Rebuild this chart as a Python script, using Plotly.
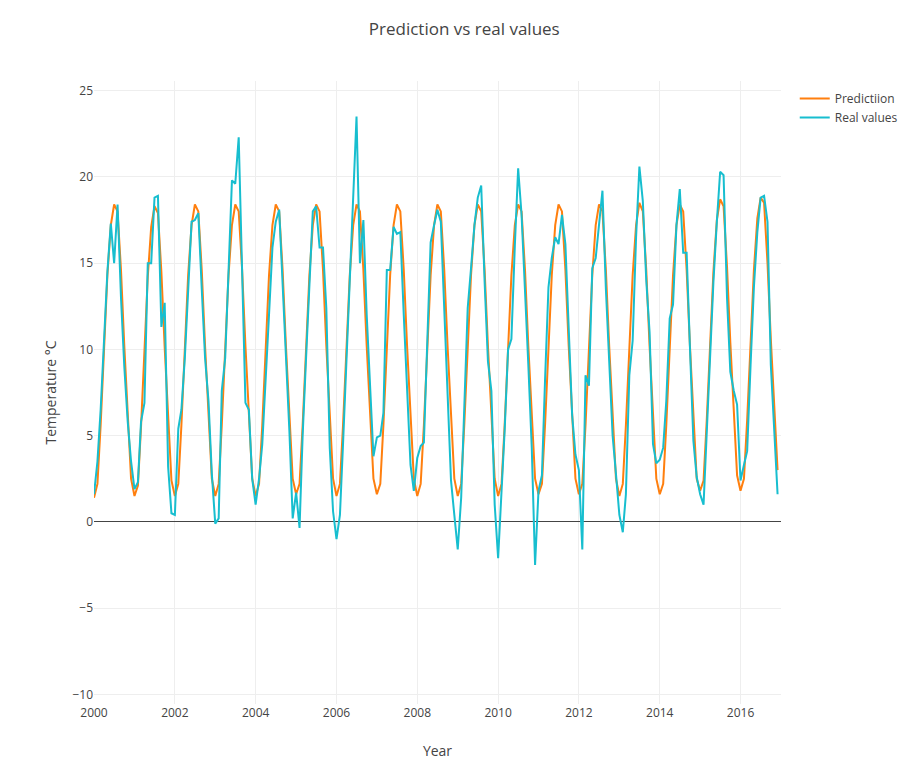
import pandas as pd
import plotly.graph_objects as go

# monthly dates, Jan 2000 .. Dec 2016
dates = pd.date_range("2000-01-01", periods=204, freq="MS")

# model output (°C), one row per year
prediction = [
    1.4, 2.2, 5.6, 9.8, 14.3, 17.2, 18.4, 18.0, 14.6, 10.2, 6.0, 2.5,   # 2000
    1.5, 2.1, 5.5, 9.7, 14.2, 17.1, 18.3, 17.9, 14.5, 10.1, 5.9, 2.4,   # 2001
    1.5, 2.2, 5.6, 9.8, 14.3, 17.2, 18.4, 18.0, 14.6, 10.2, 6.0, 2.5,   # 2002
    1.5, 2.2, 5.6, 9.8, 14.3, 17.2, 18.4, 18.0, 14.6, 10.2, 6.0, 2.5,   # 2003
    1.5, 2.2, 5.6, 9.8, 14.3, 17.2, 18.4, 18.0, 14.6, 10.2, 6.0, 2.5,   # 2004
    1.6, 2.2, 5.6, 9.8, 14.3, 17.2, 18.4, 18.0, 14.6, 10.2, 6.0, 2.5,   # 2005
    1.5, 2.2, 5.6, 9.8, 14.3, 17.2, 18.4, 18.0, 14.6, 10.2, 6.0, 2.5,   # 2006
    1.6, 2.2, 5.6, 9.8, 14.3, 17.2, 18.4, 18.0, 14.6, 10.2, 6.0, 2.5,   # 2007
    1.5, 2.2, 5.6, 9.8, 14.3, 17.2, 18.4, 18.0, 14.6, 10.2, 6.0, 2.5,   # 2008
    1.5, 2.2, 5.6, 9.8, 14.3, 17.2, 18.4, 18.0, 14.6, 10.2, 6.0, 2.5,   # 2009
    1.5, 2.2, 5.6, 9.8, 14.3, 17.2, 18.4, 18.0, 14.6, 10.2, 6.0, 2.5,   # 2010
    1.6, 2.2, 5.6, 9.8, 14.3, 17.2, 18.4, 18.0, 14.6, 10.2, 6.0, 2.5,   # 2011
    1.6, 2.2, 5.6, 9.8, 14.3, 17.2, 18.4, 18.0, 14.6, 10.2, 6.0, 2.5,   # 2012
    1.5, 2.2, 5.6, 9.8, 14.3, 17.2, 18.5, 18.0, 14.6, 10.2, 6.0, 2.5,   # 2013
    1.6, 2.2, 5.6, 9.8, 14.3, 17.2, 18.4, 18.0, 14.6, 10.2, 6.0, 2.5,   # 2014
    1.8, 2.4, 5.8, 10.0, 14.5, 17.5, 18.7, 18.3, 14.8, 10.4, 6.2, 2.7,  # 2015
    1.8, 2.5, 5.9, 10.1, 14.6, 17.6, 18.8, 18.5, 15.0, 10.6, 6.4, 3.0,  # 2016
]

# measured monthly temperature (°C)
real = [
    1.6, 3.5, 6.5, 11.0, 14.5, 17.3, 15.0, 18.4, 13.0, 9.0, 5.8, 3.5,     # 2000
    1.9, 2.3, 5.8, 6.9, 15.0, 15.0, 18.8, 18.9, 11.3, 12.7, 3.2, 0.5,     # 2001
    0.4, 5.4, 6.5, 9.5, 13.5, 17.4, 17.5, 17.9, 13.5, 9.5, 7.0, 2.8,      # 2002
    -0.1, 0.2, 7.6, 9.5, 14.5, 19.8, 19.6, 22.3, 14.5, 6.9, 6.5, 2.5,     # 2003
    1.0, 2.5, 4.5, 8.0, 12.0, 15.9, 17.4, 18.1, 14.0, 9.5, 5.3, 0.2,      # 2004
    1.7, -0.35, 5.0, 9.5, 14.0, 18.0, 18.3, 15.9, 15.9, 12.4, 4.3, 0.6,   # 2005
    -1.0, 0.4, 4.5, 9.5, 14.5, 19.0, 23.5, 15.0, 17.5, 12.0, 8.0, 3.8,    # 2006
    4.9, 5.0, 6.3, 14.6, 14.6, 17.1, 16.7, 16.8, 12.0, 7.2, 3.3, 1.8,     # 2007
    3.7, 4.4, 4.6, 10.5, 16.2, 17.2, 18.1, 17.4, 12.0, 7.2, 2.4, 0.4,     # 2008
    -1.6, 1.4, 6.2, 12.4, 14.7, 17.2, 18.8, 19.5, 13.9, 9.3, 7.6, 1.0,    # 2009
    -2.1, 1.4, 5.3, 10.0, 10.6, 16.0, 20.5, 17.8, 13.6, 9.1, 4.3, -2.5,   # 2010
    1.8, 2.7, 8.2, 13.6, 15.3, 16.5, 16.1, 17.8, 16.1, 10.9, 6.2, 3.9,    # 2011
    3.0, -1.6, 8.5, 7.9, 14.7, 15.3, 17.3, 19.2, 13.5, 9.0, 5.0, 2.8,     # 2012
    0.4, -0.6, 1.6, 8.5, 10.5, 16.5, 20.6, 18.6, 14.0, 11.0, 4.5, 3.4,    # 2013
    3.6, 4.3, 7.0, 11.8, 12.6, 17.2, 19.3, 15.6, 15.6, 10.1, 4.7, 2.6,    # 2014
    1.6, 1.0, 5.3, 10.1, 13.9, 17.4, 20.3, 20.1, 13.0, 8.7, 7.6, 6.8,     # 2015
    2.4, 3.3, 4.1, 9.1, 13.6, 16.8, 18.8, 18.9, 17.4, 9.1, 5.3, 1.6,      # 2016
]

fig = go.Figure()
fig.add_trace(go.Scatter(
    x=dates, y=prediction, mode="lines", name="Predictiion",
    line=dict(color="#ff7f0e", width=2),
))
fig.add_trace(go.Scatter(
    x=dates, y=real, mode="lines", name="Real values",
    line=dict(color="#17becf", width=2),
))

fig.update_layout(
    template="none",
    width=918,
    height=766,
    font=dict(family="Open Sans, verdana, arial, sans-serif", size=12, color="#444"),
    title=dict(text="Prediction vs real values", x=0.497, y=0.9726,
               xanchor="center", yanchor="middle", font=dict(size=17)),
    margin=dict(l=86, r=145, t=73, b=70),
    paper_bgcolor="white",
    plot_bgcolor="white",
    xaxis=dict(
        type="date",
        range=["2000-01-01", "2017-01-01"],
        dtick="M24",
        tick0="2000-01-01",
        tickformat="%Y",
        title=dict(text="Year"),
        gridcolor="#eee",
        showline=False,
        zeroline=False,
    ),
    yaxis=dict(
        range=[-10.56, 25.56],
        dtick=5,
        title=dict(text="Temperature °C"),
        gridcolor="#eee",
        zeroline=True,
        zerolinecolor="#444",
        zerolinewidth=1,
    ),
    legend=dict(x=1.02, y=0.995, xanchor="left", yanchor="top"),
)

fig.write_html("out.html")
